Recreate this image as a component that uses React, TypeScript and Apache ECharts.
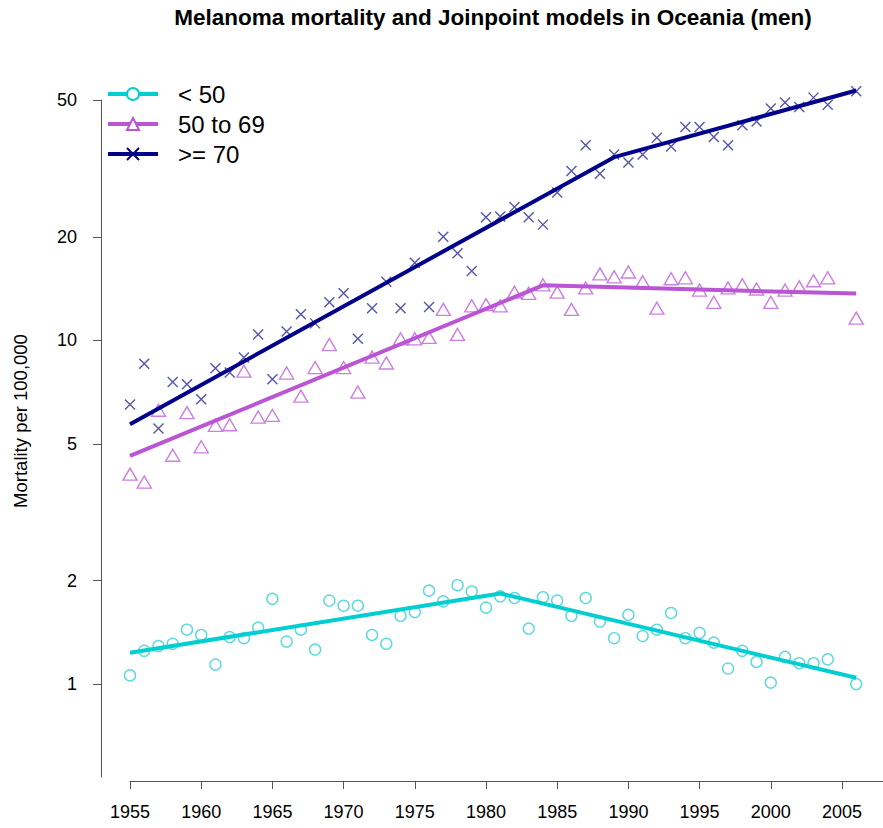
import React, { useEffect, useRef } from "react";
import * as echarts from "echarts";

// Calendar years with observed rates (no data for 2005)
const years = [
  1955, 1956, 1957, 1958, 1959, 1960, 1961, 1962, 1963, 1964, 1965, 1966, 1967, 1968, 1969, 1970, 1971,
  1972, 1973, 1974, 1975, 1976, 1977, 1978, 1979, 1980, 1981, 1982, 1983, 1984, 1985, 1986, 1987, 1988,
  1989, 1990, 1991, 1992, 1993, 1994, 1995, 1996, 1997, 1998, 1999, 2000, 2001, 2002, 2003, 2004, 2006,
];

// Observed mortality per 100,000 by age group
const under50 = [
  1.06, 1.25, 1.29, 1.31, 1.44, 1.39, 1.14, 1.37, 1.36, 1.46, 1.77, 1.33, 1.44, 1.26, 1.75, 1.69, 1.69,
  1.39, 1.31, 1.58, 1.62, 1.87, 1.74, 1.94, 1.86, 1.67, 1.8, 1.78, 1.45, 1.79, 1.75, 1.58, 1.78, 1.52,
  1.36, 1.59, 1.38, 1.44, 1.61, 1.36, 1.41, 1.32, 1.11, 1.25, 1.16, 1.01, 1.2, 1.15, 1.15, 1.18, 1.0,
];
const age50to69 = [
  4.08, 3.87, 6.26, 4.63, 6.16, 4.9, 5.66, 5.68, 8.13, 5.98, 6.05, 8.03, 6.88, 8.33, 9.72, 8.33, 7.07,
  8.94, 8.59, 10.1, 10.1, 10.2, 12.3, 10.4, 12.6, 12.7, 12.6, 13.8, 13.7, 14.5, 13.8, 12.3, 14.2, 15.6,
  15.3, 15.8, 14.8, 12.4, 15.1, 15.2, 14.0, 12.9, 14.2, 14.5, 14.1, 12.9, 14.0, 14.3, 14.9, 15.2, 11.6,
];
const age70plus = [
  6.5, 8.55, 5.54, 7.56, 7.45, 6.74, 8.29, 8.06, 8.91, 10.4, 7.7, 10.6, 11.9, 11.2, 12.9, 13.7, 10.1,
  12.4, 14.8, 12.4, 16.8, 12.5, 20.0, 17.9, 15.9, 22.8, 22.9, 24.4, 22.8, 21.7, 26.9, 31.1, 36.9, 30.5,
  34.7, 32.9, 34.7, 38.8, 36.6, 41.7, 41.7, 39.0, 36.9, 42.2, 43.3, 47.2, 49.2, 47.7, 50.8, 48.4, 53.0,
];

// Joinpoint fitted segments: start, joinpoint, end
const fitUnder50Years = [1955, 1981, 2006];
const fitUnder50 = [1.233, 1.835, 1.043];
const fit50to69Years = [1955, 1984, 2006];
const fit50to69 = [4.61, 14.45, 13.67];
const fit70plusYears = [1955, 1989, 2006];
const fit70plus = [5.7, 34.1, 53.3];

const groupNames = ["< 50", "50 to 69", ">= 70"];
const yTicks = [1, 2, 5, 10, 20, 50];
const xTicks = [1955, 1960, 1965, 1970, 1975, 1980, 1985, 1990, 1995, 2000, 2005];

const FONT = "'Liberation Sans', Arial, sans-serif";
const CYAN = "#00CED1";
const ORCHID = "#BA55D3";
const NAVY = "#00008B";
const CROSS = "path://M0,0L10,10M10,0L0,10";

const pair = (xs: number[], ys: number[]) => xs.map((x, i) => [x, ys[i]]);

export default function App() {
  const ref = useRef<HTMLDivElement>(null);

  useEffect(() => {
    if (!ref.current) return;
    const chart = echarts.init(ref.current, null, { renderer: "svg" });

    const fitLine = (name: string, data: number[][], color: string, symbol: string) => ({
      name,
      type: "line",
      data,
      symbol,
      showSymbol: false,
      clip: false,
      z: 3,
      lineStyle: { color, width: 4 },
      itemStyle: { color: "#fff", borderColor: color, borderWidth: 2.5 },
      emphasis: { disabled: true },
    });

    const points = (name: string, ys: number[], symbol: string, size: number | number[], color: string) => ({
      name,
      type: "scatter",
      data: pair(years, ys),
      symbol,
      symbolSize: size,
      clip: false,
      z: 2,
      itemStyle: { color: "rgba(0,0,0,0)", borderColor: color, borderWidth: 1.4 },
      emphasis: { disabled: true },
    });

    chart.setOption({
      animation: false,
      backgroundColor: "#fff",
      textStyle: { fontFamily: FONT },
      grid: { left: 130, right: 0, top: 100, bottom: 51 },
      legend: {
        data: groupNames,
        orient: "vertical",
        left: 106,
        top: 82,
        padding: 0,
        itemWidth: 50,
        itemHeight: 15,
        itemGap: 6,
        selectedMode: false,
        lineStyle: { width: 4 },
        textStyle: { fontSize: 24, color: "#000", fontFamily: FONT, lineHeight: 24, padding: [0, 0, 0, 15] },
      },
      xAxis: {
        type: "value",
        min: 1955,
        max: 2007.88,
        offset: 4,
        axisLine: { show: true, lineStyle: { color: "#555", width: 1 } },
        axisTick: { show: true, length: 8, customValues: xTicks, lineStyle: { color: "#555" } },
        axisLabel: {
          customValues: xTicks,
          formatter: (v: number) => String(v),
          fontSize: 18,
          color: "#000",
          margin: 22,
          fontFamily: FONT,
        },
        splitLine: { show: false },
      },
      yAxis: {
        type: "log",
        logBase: 10,
        min: 0.5367,
        max: 50,
        offset: 29,
        axisLine: { show: true, lineStyle: { color: "#555", width: 1 } },
        axisTick: { show: true, length: 8, customValues: yTicks, lineStyle: { color: "#555" } },
        axisLabel: {
          customValues: yTicks,
          formatter: (v: number) => String(v),
          fontSize: 18,
          color: "#000",
          margin: 24,
          fontFamily: FONT,
        },
        splitLine: { show: false },
      },
      graphic: [
        {
          type: "text",
          x: 493,
          y: 17,
          style: {
            text: "Melanoma mortality and Joinpoint models in Oceania (men)",
            font: `bold 22.5px ${FONT}`,
            fill: "#000",
            textAlign: "center",
            textVerticalAlign: "middle",
          },
        },
        {
          type: "text",
          x: 20,
          y: 421,
          rotation: Math.PI / 2,
          style: {
            text: "Mortality per 100,000",
            font: `18.5px ${FONT}`,
            fill: "#000",
            textAlign: "center",
            textVerticalAlign: "middle",
          },
        },
      ],
      series: [
        fitLine(groupNames[0], pair(fitUnder50Years, fitUnder50), CYAN, "circle"),
        fitLine(groupNames[1], pair(fit50to69Years, fit50to69), ORCHID, "triangle"),
        fitLine(groupNames[2], pair(fit70plusYears, fit70plus), NAVY, CROSS),
        points(groupNames[0], under50, "circle", 11, "#2fd0d4"),
        points(groupNames[1], age50to69, "triangle", [14, 12], "#bf5fdc"),
        points(groupNames[2], age70plus, CROSS, 10, "#2a2a96"),
      ],
    });

    return () => chart.dispose();
  }, []);

  return (
    <div
      ref={ref}
      style={{ position: "fixed", left: 0, top: 0, width: 883, height: 828, background: "#fff" }}
    />
  );
}
